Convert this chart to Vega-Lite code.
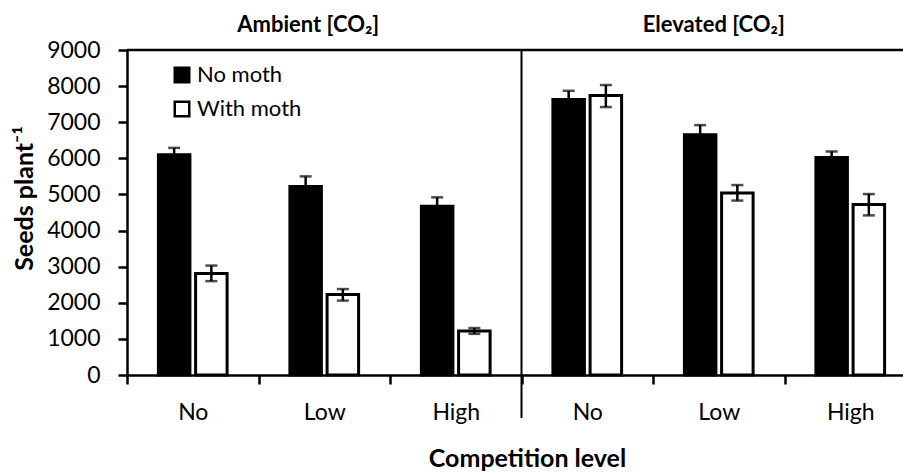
{
  "$schema": "https://vega.github.io/schema/vega-lite/v6.json",
  "width": 776,
  "height": 325,
  "autosize": "none",
  "padding": {"left": 127, "top": 50, "right": 0, "bottom": 97},
  "config": {
    "view": {"stroke": null},
    "font": "Lato",
    "axis": {"domainColor": "black", "tickColor": "black", "labelColor": "black", "titleColor": "black", "grid": false}
  },
  "datasets": {
    "seeds": [
      {"co2": "Ambient", "level": "No", "cat": "Ambient|No", "moth": "No moth", "seeds": 6100, "lower": 5920, "upper": 6290},
      {"co2": "Ambient", "level": "No", "cat": "Ambient|No", "moth": "With moth", "seeds": 2810, "lower": 2600, "upper": 3030},
      {"co2": "Ambient", "level": "Low", "cat": "Ambient|Low", "moth": "No moth", "seeds": 5220, "lower": 4940, "upper": 5500},
      {"co2": "Ambient", "level": "Low", "cat": "Ambient|Low", "moth": "With moth", "seeds": 2230, "lower": 2060, "upper": 2380},
      {"co2": "Ambient", "level": "High", "cat": "Ambient|High", "moth": "No moth", "seeds": 4670, "lower": 4420, "upper": 4920},
      {"co2": "Ambient", "level": "High", "cat": "Ambient|High", "moth": "With moth", "seeds": 1220, "lower": 1140, "upper": 1300},
      {"co2": "Elevated", "level": "No", "cat": "Elevated|No", "moth": "No moth", "seeds": 7630, "lower": 7390, "upper": 7870},
      {"co2": "Elevated", "level": "No", "cat": "Elevated|No", "moth": "With moth", "seeds": 7740, "lower": 7420, "upper": 8030},
      {"co2": "Elevated", "level": "Low", "cat": "Elevated|Low", "moth": "No moth", "seeds": 6650, "lower": 6370, "upper": 6920},
      {"co2": "Elevated", "level": "Low", "cat": "Elevated|Low", "moth": "With moth", "seeds": 5040, "lower": 4830, "upper": 5260},
      {"co2": "Elevated", "level": "High", "cat": "Elevated|High", "moth": "No moth", "seeds": 6020, "lower": 5850, "upper": 6190},
      {"co2": "Elevated", "level": "High", "cat": "Elevated|High", "moth": "With moth", "seeds": 4720, "lower": 4420, "upper": 5010}
    ]
  },
  "layer": [
    {
      "data": {"name": "seeds"},
      "mark": {"type": "bar", "stroke": "black", "strokeWidth": 3},
      "encoding": {
        "x": {
          "field": "cat", "type": "nominal", "title": "Competition level",
          "scale": {"domain": ["Ambient|No", "Ambient|Low", "Ambient|High", "Elevated|No", "Elevated|Low", "Elevated|High"], "range": [0, 789], "paddingInner": 0, "paddingOuter": 0},
          "axis": {
            "labelAngle": 0, "labelExpr": "split(datum.label, '|')[1]", "tickBand": "extent",
            "tickSize": 9, "tickWidth": 2.5, "domainWidth": 2.5,
            "labelFontSize": 23, "labelPadding": 28, "labelBaseline": "middle",
            "titleFontSize": 25, "titleFontWeight": "bold", "titleX": 400, "titleY": 83, "titleBaseline": "middle", "titleAlign": "center"
          }
        },
        "xOffset": {"field": "moth", "type": "nominal", "scale": {"domain": ["No moth", "With moth"], "paddingInner": 0.153, "paddingOuter": 0.844}},
        "y": {
          "field": "seeds", "type": "quantitative", "title": "Seeds plant⁻¹",
          "scale": {"domain": [0, 9000], "nice": false},
          "axis": {
            "values": [0, 1000, 2000, 3000, 4000, 5000, 6000, 7000, 8000, 9000],
            "tickCount": 12, "format": "d", "labelOverlap": false,
            "tickSize": 9, "tickWidth": 2.5, "domainWidth": 2.5,
            "labelFontSize": 23, "labelPadding": 18,
            "titleFontSize": 25, "titleFontWeight": "bold", "titleX": -103, "titleY": 148, "titleAngle": -90, "titleBaseline": "middle", "titleAlign": "center",
            "encode": {"ticks": {"update": {"x": {"value": 9}}}}
          }
        },
        "fill": {
          "field": "moth", "type": "nominal",
          "scale": {"domain": ["No moth", "With moth"], "range": ["black", "white"]},
          "legend": {
            "title": null, "orient": "none", "legendX": 44, "legendY": 14, "padding": 0,
            "symbolType": "square", "symbolSize": 210, "symbolStrokeColor": "black", "symbolStrokeWidth": 2.5,
            "labelFontSize": 22, "labelColor": "black", "labelOffset": 4, "rowPadding": 8
          }
        }
      }
    },
    {
      "data": {"name": "seeds"},
      "mark": {"type": "rule", "color": "black", "strokeWidth": 2.5},
      "encoding": {
        "x": {"field": "cat", "type": "nominal"},
        "xOffset": {"field": "moth", "type": "nominal"},
        "y": {"field": "lower", "type": "quantitative"},
        "y2": {"field": "upper"}
      }
    },
    {
      "data": {"name": "seeds"},
      "mark": {"type": "tick", "color": "black", "size": 12, "thickness": 2.5, "orient": "horizontal"},
      "encoding": {
        "x": {"field": "cat", "type": "nominal"},
        "xOffset": {"field": "moth", "type": "nominal"},
        "y": {"field": "lower", "type": "quantitative"}
      }
    },
    {
      "data": {"name": "seeds"},
      "mark": {"type": "tick", "color": "black", "size": 12, "thickness": 2.5, "orient": "horizontal"},
      "encoding": {
        "x": {"field": "cat", "type": "nominal"},
        "xOffset": {"field": "moth", "type": "nominal"},
        "y": {"field": "upper", "type": "quantitative"}
      }
    },
    {
      "data": {"values": [{"cat": "Elevated|No"}]},
      "mark": {"type": "rule", "color": "black", "strokeWidth": 2},
      "encoding": {
        "x": {"field": "cat", "type": "nominal", "bandPosition": 0},
        "y": {"datum": 9000},
        "y2": {"datum": -1190}
      }
    },
    {
      "data": {"values": [{"cat": "Elevated|No"}]},
      "mark": {"type": "rule", "color": "black", "strokeWidth": 2.5},
      "encoding": {
        "y": {"datum": 9000}
      }
    },
    {
      "data": {"values": [{"cat": "Ambient|Low", "label": "Ambient [CO₂]"}]},
      "mark": {"type": "text", "fontSize": 22, "fontWeight": "bold", "color": "black", "dy": -25, "dx": -16, "baseline": "middle"},
      "encoding": {
        "x": {"field": "cat", "type": "nominal"},
        "y": {"datum": 9000},
        "text": {"field": "label"}
      }
    },
    {
      "data": {"values": [{"cat": "Elevated|Low", "label": "Elevated [CO₂]"}]},
      "mark": {"type": "text", "fontSize": 22, "fontWeight": "bold", "color": "black", "dy": -25, "dx": -5, "baseline": "middle"},
      "encoding": {
        "x": {"field": "cat", "type": "nominal"},
        "y": {"datum": 9000},
        "text": {"field": "label"}
      }
    }
  ]
}
